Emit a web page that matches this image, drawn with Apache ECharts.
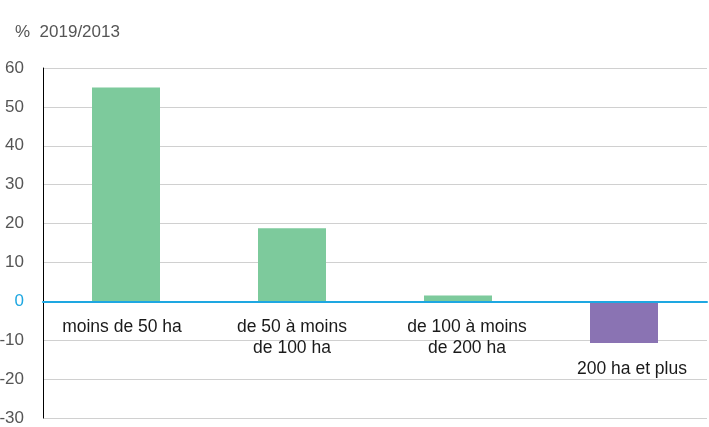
<!DOCTYPE html>
<html>
<head>
<meta charset="utf-8">
<script src="https://cdn.jsdelivr.net/npm/echarts@6/dist/echarts.min.js"></script>
<style>
  html, body { margin: 0; padding: 0; background: #fff; }
  #chart { width: 709px; height: 427px; }
</style>
</head>
<body>
<div id="chart"></div>
<script>
// categories and values (% change 2019/2013)
var categories = ['moins de 50 ha', 'de 50 à moins\nde 100 ha', 'de 100 à moins\nde 200 ha', '200 ha et plus'];
var values = [55, 18.8, 1.5, -10.7];
var unitLabel = '%  2019/2013';

// small nudges so the labels sit like in the original layout
var labelPads = [[0, 8, 0, 0], 0, [0, 0, 0, 18], [42, 0, 0, 16]];

var myChart = echarts.init(document.getElementById('chart'));

var option = {
  animation: false,
  textStyle: { fontFamily: 'Liberation Sans, Arial, sans-serif' },
  title: {
    text: unitLabel,
    left: 10,
    top: 19,
    textStyle: { fontSize: 17, fontWeight: 'normal', color: '#555555' }
  },
  grid: { left: 43, right: 2, top: 68, bottom: 9, outerBoundsMode: 'none', containLabel: false },
  xAxis: [
    {
      type: 'category',
      data: categories,
      axisLine: { onZero: true, lineStyle: { color: '#1ea7e1', width: 2 } },
      axisTick: { show: false },
      axisLabel: { show: false },
      z: 5
    },
    {
      // label-only axis moved up to the zero line (grid bottom 418 -> zero 301)
      type: 'category',
      position: 'bottom',
      offset: -117,
      data: categories.map(function (c, i) {
        return { value: c, textStyle: { padding: labelPads[i] } };
      }),
      axisLine: { show: false, onZero: false },
      axisTick: { show: false },
      splitLine: { show: false },
      axisLabel: { color: '#1a1a1a', fontSize: 17.5, margin: 16, lineHeight: 21, interval: 0 }
    }
  ],
  yAxis: {
    type: 'value',
    min: -30,
    max: 60,
    interval: 10,
    axisLine: { show: true, lineStyle: { color: '#000', width: 1 } },
    axisTick: { show: false },
    axisLabel: {
      fontSize: 17,
      margin: 19,
      color: function (v) { return Number(v) === 0 ? '#1ea7e1' : '#555555'; }
    },
    splitLine: { lineStyle: { color: '#d0d0d0', width: 1 } }
  },
  series: [
    {
      type: 'bar',
      barWidth: 68,
      data: values.map(function (v) {
        return { value: v, itemStyle: { color: v < 0 ? '#8a73b3' : '#7dca9c' } };
      })
    }
  ]
};

myChart.setOption(option);
</script>
</body>
</html>
